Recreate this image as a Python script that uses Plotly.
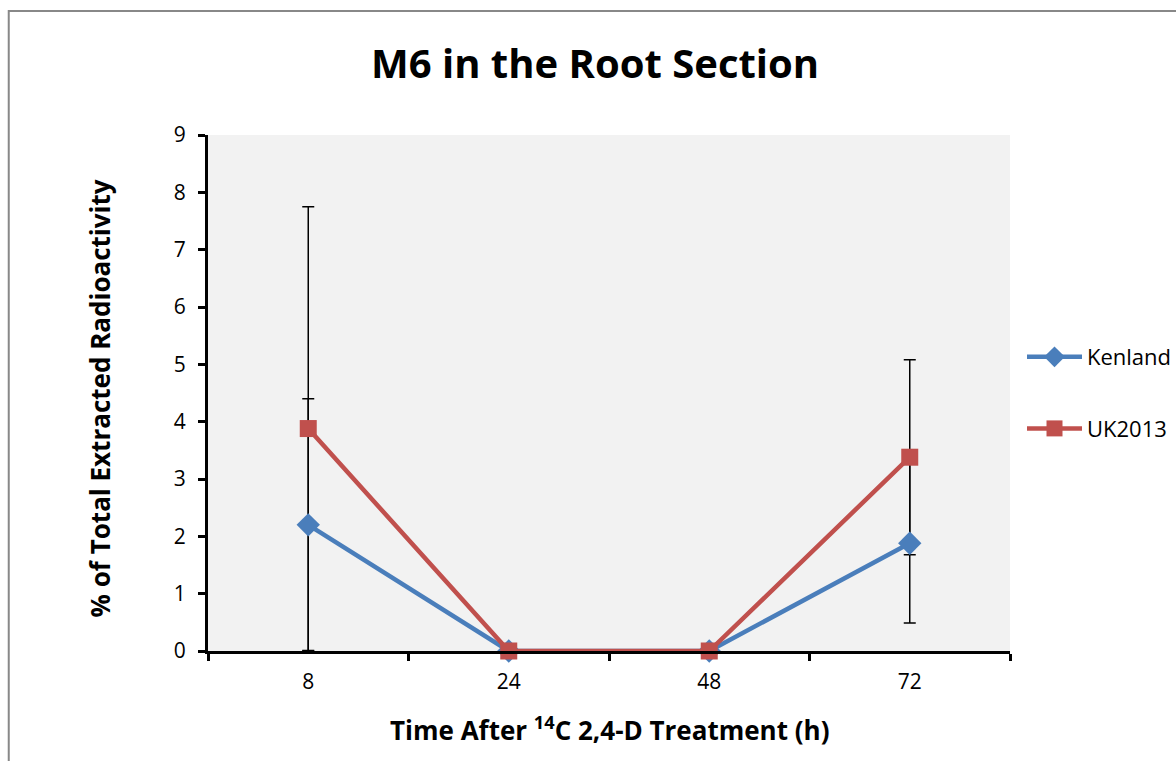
import plotly.graph_objects as go

# Sampling times (h) and % of total extracted radioactivity as M6
times = ["8", "24", "48", "72"]
kenland = [2.2, 0.0, 0.0, 1.88]
kenland_err = [2.2, 0.0, 0.0, 1.39]
uk2013 = [3.88, 0.0, 0.0, 3.38]
uk2013_err = [3.87, 0.0, 0.0, 1.7]

BLUE = "#4A7EBB"
RED = "#C0504D"
FONT = "Open Sans"

fig = go.Figure()

# Error bars first so the series lines and markers sit on top
for vals, errs in ((kenland, kenland_err), (uk2013, uk2013_err)):
    fig.add_trace(go.Scatter(
        x=times, y=vals, mode="markers",
        marker=dict(size=1, opacity=0),
        error_y=dict(type="data", array=errs, visible=True,
                     color="black", thickness=1.5, width=6),
        showlegend=False, hoverinfo="skip",
    ))

fig.add_trace(go.Scatter(
    x=times, y=kenland, name="Kenland", mode="lines+markers",
    line=dict(color=BLUE, width=4.5),
    marker=dict(symbol="diamond", size=18, color=BLUE),
    legendgroup="a", cliponaxis=False,
))
fig.add_trace(go.Scatter(
    x=times, y=uk2013, name="UK2013", mode="lines+markers",
    line=dict(color=RED, width=4.5),
    marker=dict(symbol="square", size=17, color=RED),
    legendgroup="b", cliponaxis=False,
))

fig.update_layout(
    width=1176, height=761,
    margin=dict(l=208, r=163, t=135, b=110),
    paper_bgcolor="white",
    plot_bgcolor="#F2F2F2",
    font=dict(family=FONT, color="black", size=21),
    showlegend=True,
    legend=dict(
        xref="container", yref="container",
        x=1022 / 1176, y=1 - 336 / 761, xanchor="left", yanchor="top",
        font=dict(size=22, family=FONT),
        traceorder="grouped", tracegroupgap=40,
        itemwidth=55, bgcolor="rgba(0,0,0,0)",
    ),
    xaxis=dict(
        type="category", range=[-0.5, 3.5],
        showline=True, linecolor="black", linewidth=3,
        ticks="outside", tickson="boundaries", ticklen=7,
        tickwidth=3, tickcolor="black",
        showgrid=False, zeroline=False,
        ticklabelstandoff=10,
        tickfont=dict(size=21, family=FONT),
    ),
    yaxis=dict(
        range=[0, 9], dtick=1,
        showline=True, linecolor="black", linewidth=3,
        ticks="outside", ticklen=7, tickwidth=3, tickcolor="black",
        showgrid=False, zeroline=False,
        ticklabelstandoff=8,
        tickfont=dict(size=21, family=FONT),
    ),
    annotations=[
        dict(text="<b>M6 in the Root Section</b>", xref="paper", yref="paper",
             x=(596 - 208) / 805, y=(651 - 63) / 516, xanchor="center", yanchor="middle",
             showarrow=False, font=dict(size=40, family=FONT)),
        dict(text="<b>% of Total Extracted Radioactivity</b>", xref="paper", yref="paper",
             x=(100 - 208) / 805, y=(651 - 398) / 516, xanchor="center", yanchor="middle",
             textangle=-90, showarrow=False, font=dict(size=26, family=FONT)),
        dict(text="<b>Time After <sup>14</sup>C 2,4-D Treatment (h)</b>", xref="paper", yref="paper",
             x=(611 - 208) / 805, y=(651 - 729) / 516, xanchor="center", yanchor="middle",
             showarrow=False, font=dict(size=26, family=FONT)),
    ],
    shapes=[
        dict(type="rect", xref="paper", yref="paper",
             x0=(8 - 208) / 805, x1=1.4, y0=-0.4, y1=(651 - 11) / 516,
             line=dict(color="#888888", width=2), fillcolor="rgba(0,0,0,0)", layer="below"),
    ],
)

fig.write_html("out.html")
